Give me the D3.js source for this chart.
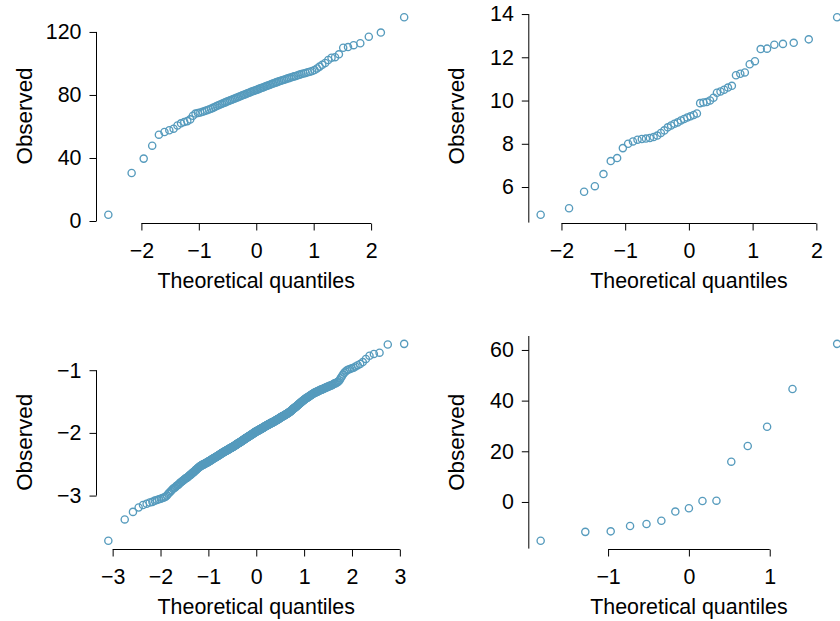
<!DOCTYPE html>
<html>
<head>
<meta charset="utf-8">
<script src="https://cdn.jsdelivr.net/npm/d3@7"></script>
<style>
  body { margin: 0; background: #ffffff; }
  svg { display: block; }
  text { font-family: "Liberation Sans", Arial, Helvetica, sans-serif; fill: #000; }
</style>
</head>
<body>
<svg id="chart" width="840" height="621"></svg>
<script>
const observed1 = [
  4.0,30.5,39.6,47.8,54.8,56.5,57.6,58.6,60.6,62.0,
  62.8,63.4,64.5,66.8,68.2,68.5,68.9,69.3,69.8,70.3,
  70.8,71.3,71.8,72.4,73.0,73.5,74.0,74.4,74.9,75.3,
  75.8,76.2,76.6,77.0,77.4,77.8,78.2,78.6,79.0,79.4,
  79.8,80.1,80.5,80.9,81.3,81.6,82.0,82.4,82.7,83.0,
  83.3,83.7,84.1,84.4,84.8,85.1,85.5,85.8,86.2,86.5,
  86.9,87.3,87.6,88.0,88.3,88.7,89.0,89.3,89.7,90.0,
  90.4,90.7,91.1,91.4,91.8,92.1,92.5,92.9,93.3,93.6,
  94.0,94.4,94.8,95.2,95.8,96.8,98.0,99.2,100.3,102.2,
  103.6,104.0,105.8,110.0,110.4,111.6,112.8,117.0,119.6,129.3
];
const observed2 = [
  4.72,5.02,5.78,6.04,6.60,7.20,7.34,7.80,8.00,8.11,
  8.19,8.22,8.24,8.27,8.31,8.38,8.50,8.62,8.76,8.85,
  8.93,8.99,9.08,9.15,9.22,9.27,9.33,9.40,9.88,9.91,
  9.93,10.00,10.13,10.36,10.42,10.50,10.60,10.68,11.17,11.24,
  11.30,11.68,11.82,12.38,12.40,12.58,12.62,12.67,12.83,13.85
];
const observed3 = [
  -3.72,-3.38,-3.26,-3.19,-3.15,-3.13,-3.11,-3.10,-3.08,-3.07,-3.06,-3.05,-3.04,-3.03,-3.02,-3.00,-2.97,-2.95,-2.93,-2.91,
  -2.89,-2.88,-2.87,-2.85,-2.84,-2.83,-2.82,-2.80,-2.79,-2.78,-2.77,-2.76,-2.75,-2.74,-2.73,-2.72,-2.72,-2.71,-2.70,-2.69,
  -2.68,-2.67,-2.67,-2.66,-2.65,-2.64,-2.63,-2.63,-2.62,-2.61,-2.60,-2.59,-2.59,-2.58,-2.57,-2.56,-2.56,-2.55,-2.54,-2.54,
  -2.53,-2.53,-2.52,-2.52,-2.51,-2.51,-2.51,-2.50,-2.50,-2.50,-2.49,-2.49,-2.48,-2.48,-2.48,-2.47,-2.47,-2.47,-2.46,-2.46,
  -2.45,-2.45,-2.45,-2.44,-2.44,-2.44,-2.43,-2.43,-2.42,-2.42,-2.42,-2.41,-2.41,-2.41,-2.40,-2.40,-2.40,-2.39,-2.39,-2.39,
  -2.38,-2.38,-2.38,-2.37,-2.37,-2.37,-2.36,-2.36,-2.36,-2.35,-2.35,-2.35,-2.34,-2.34,-2.34,-2.33,-2.33,-2.33,-2.32,-2.32,
  -2.32,-2.31,-2.31,-2.31,-2.31,-2.30,-2.30,-2.30,-2.29,-2.29,-2.29,-2.29,-2.28,-2.28,-2.28,-2.28,-2.27,-2.27,-2.27,-2.27,
  -2.26,-2.26,-2.26,-2.25,-2.25,-2.25,-2.25,-2.24,-2.24,-2.24,-2.24,-2.23,-2.23,-2.23,-2.23,-2.22,-2.22,-2.22,-2.22,-2.21,
  -2.21,-2.21,-2.21,-2.20,-2.20,-2.20,-2.19,-2.19,-2.19,-2.19,-2.18,-2.18,-2.18,-2.17,-2.17,-2.17,-2.17,-2.16,-2.16,-2.16,
  -2.16,-2.15,-2.15,-2.15,-2.15,-2.14,-2.14,-2.14,-2.14,-2.13,-2.13,-2.13,-2.12,-2.12,-2.12,-2.12,-2.11,-2.11,-2.11,-2.11,
  -2.10,-2.10,-2.10,-2.09,-2.09,-2.09,-2.09,-2.08,-2.08,-2.08,-2.08,-2.07,-2.07,-2.07,-2.07,-2.06,-2.06,-2.06,-2.06,-2.05,
  -2.05,-2.05,-2.05,-2.04,-2.04,-2.04,-2.04,-2.03,-2.03,-2.03,-2.03,-2.02,-2.02,-2.02,-2.02,-2.01,-2.01,-2.01,-2.01,-2.00,
  -2.00,-2.00,-2.00,-1.99,-1.99,-1.99,-1.99,-1.98,-1.98,-1.98,-1.98,-1.97,-1.97,-1.97,-1.97,-1.97,-1.96,-1.96,-1.96,-1.96,
  -1.96,-1.95,-1.95,-1.95,-1.95,-1.94,-1.94,-1.94,-1.94,-1.94,-1.93,-1.93,-1.93,-1.93,-1.93,-1.92,-1.92,-1.92,-1.92,-1.91,
  -1.91,-1.91,-1.91,-1.90,-1.90,-1.90,-1.90,-1.89,-1.89,-1.89,-1.89,-1.89,-1.88,-1.88,-1.88,-1.88,-1.87,-1.87,-1.87,-1.87,
  -1.87,-1.86,-1.86,-1.86,-1.86,-1.85,-1.85,-1.85,-1.85,-1.85,-1.84,-1.84,-1.84,-1.84,-1.84,-1.83,-1.83,-1.83,-1.83,-1.83,
  -1.82,-1.82,-1.82,-1.82,-1.81,-1.81,-1.81,-1.81,-1.80,-1.80,-1.80,-1.80,-1.79,-1.79,-1.79,-1.79,-1.78,-1.78,-1.78,-1.78,
  -1.77,-1.77,-1.77,-1.77,-1.76,-1.76,-1.76,-1.75,-1.75,-1.75,-1.75,-1.74,-1.74,-1.74,-1.74,-1.73,-1.73,-1.73,-1.73,-1.72,
  -1.72,-1.72,-1.72,-1.71,-1.71,-1.71,-1.70,-1.70,-1.70,-1.70,-1.69,-1.69,-1.69,-1.68,-1.68,-1.68,-1.67,-1.67,-1.67,-1.66,
  -1.66,-1.66,-1.65,-1.65,-1.64,-1.64,-1.63,-1.63,-1.62,-1.62,-1.61,-1.61,-1.61,-1.60,-1.60,-1.59,-1.59,-1.59,-1.58,-1.58,
  -1.57,-1.57,-1.56,-1.56,-1.55,-1.55,-1.54,-1.54,-1.53,-1.53,-1.52,-1.52,-1.51,-1.51,-1.50,-1.50,-1.49,-1.49,-1.48,-1.48,
  -1.47,-1.47,-1.46,-1.46,-1.45,-1.45,-1.44,-1.44,-1.44,-1.43,-1.43,-1.42,-1.42,-1.41,-1.41,-1.40,-1.40,-1.39,-1.39,-1.38,
  -1.38,-1.37,-1.37,-1.36,-1.36,-1.36,-1.35,-1.35,-1.34,-1.34,-1.34,-1.33,-1.33,-1.32,-1.32,-1.31,-1.31,-1.31,-1.30,-1.30,
  -1.29,-1.29,-1.28,-1.28,-1.27,-1.27,-1.26,-1.26,-1.25,-1.25,-1.24,-1.24,-1.23,-1.22,-1.21,-1.21,-1.20,-1.19,-1.18,-1.16,
  -1.13,-1.10,-1.07,-1.04,-1.02,-1.00,-0.99,-0.98,-0.97,-0.96,-0.94,-0.92,-0.90,-0.87,-0.82,-0.77,-0.74,-0.72,-0.59,-0.58
];
const observed4 = [-15.3,-11.8,-11.6,-9.5,-8.7,-7.4,-3.8,-2.5,0.4,0.5,15.9,22.1,29.7,44.6,62.4];

const xTicks1 = [-2,-1,0,1,2];
const yTicks1 = [0,40,80,120];
const xTicks2 = [-2,-1,0,1,2];
const yTicks2 = [6,8,10,12,14];
const xTicks3 = [-3,-2,-1,0,1,2,3];
const yTicks3 = [-3,-2,-1];
const xTicks4 = [-1,0,1];
const yTicks4 = [0,20,40,60];

const xLabel = "Theoretical quantiles";
const yLabel = "Observed";

// ---------- helpers ----------
function qnorm(p) {
  const a = [-3.969683028665376e+01, 2.209460984245205e+02, -2.759285104469687e+02, 1.383577518672690e+02, -3.066479806614716e+01, 2.506628277459239e+00];
  const b = [-5.447609879822406e+01, 1.615858368580409e+02, -1.556989798598866e+02, 6.680131188771972e+01, -1.328068155922803e+01];
  const c = [-7.784894002430293e-03, -3.223964580411365e-01, -2.400758277161838e+00, -2.549732539343734e+00, 4.374664141464968e+00, 2.938163982698783e+00];
  const d = [7.784695709041462e-03, 3.224671290700398e-01, 2.445134137142996e+00, 3.754408661907416e+00];
  const plow = 0.02425, phigh = 1 - plow;
  let q, r;
  if (p < plow) {
    q = Math.sqrt(-2 * Math.log(p));
    return (((((c[0]*q+c[1])*q+c[2])*q+c[3])*q+c[4])*q+c[5]) / ((((d[0]*q+d[1])*q+d[2])*q+d[3])*q+1);
  } else if (p <= phigh) {
    q = p - 0.5; r = q*q;
    return (((((a[0]*r+a[1])*r+a[2])*r+a[3])*r+a[4])*r+a[5])*q / (((((b[0]*r+b[1])*r+b[2])*r+b[3])*r+b[4])*r+1);
  } else {
    q = Math.sqrt(-2 * Math.log(1 - p));
    return -(((((c[0]*q+c[1])*q+c[2])*q+c[3])*q+c[4])*q+c[5]) / ((((d[0]*q+d[1])*q+d[2])*q+d[3])*q+1);
  }
}
function theoretical(n) {
  const a = n <= 10 ? 3/8 : 0.5;
  return d3.range(1, n + 1).map(i => qnorm((i - a) / (n + 1 - 2 * a)));
}
function padded(ext) {
  const pad = (ext[1] - ext[0]) * 0.04;
  return [ext[0] - pad, ext[1] + pad];
}

// ---------- layout ----------
const COLOR = "#569BBD";
const FS = 21.4;
const FS_Y = 22.4;
const cols = [{left: 96.5, right: 416}, {left: 528.8, right: 849}];
const rows = [{top: 9.4, bottom: 222.6}, {top: 336, bottom: 548.6}];

const panels = [
  {obs: observed1, xt: xTicks1, yt: yTicks1, col: 0, row: 0, yLine: "ticks"},
  {obs: observed2, xt: xTicks2, yt: yTicks2, col: 1, row: 0, yLine: "bottomToTick"},
  {obs: observed3, xt: xTicks3, yt: yTicks3, col: 0, row: 1, yLine: "ticks"},
  {obs: observed4, xt: xTicks4, yt: yTicks4, col: 1, row: 1, yLine: "full"}
];

const svg = d3.select("#chart");
svg.append("rect").attr("width", 840).attr("height", 621).attr("fill", "#fff");

panels.forEach(p => {
  const box = {left: cols[p.col].left, right: cols[p.col].right, top: rows[p.row].top, bottom: rows[p.row].bottom};
  const vals = p.obs.slice().sort((a, b) => a - b);
  const th = theoretical(vals.length);
  const pts = vals.map((v, i) => ({q: th[i], v: v}));

  const x = d3.scaleLinear().domain(padded(d3.extent(th))).range([box.left, box.right]);
  const y = d3.scaleLinear().domain(padded(d3.extent(vals))).range([box.bottom, box.top]);

  const g = svg.append("g");
  const axisY = box.bottom + 0.9;
  const axisX = box.left;

  // x axis
  const xa = g.append("g").attr("transform", `translate(0,${axisY})`)
    .call(d3.axisBottom(x).tickValues(p.xt).tickFormat(d3.format("d")).tickSize(7).tickPadding(12.4));
  xa.select(".domain").remove();
  xa.selectAll(".tick line").attr("stroke", "#000").attr("stroke-width", 1);
  xa.selectAll(".tick text").attr("font-size", FS).attr("font-family", null).attr("fill", "#000");
  xa.append("line")
    .attr("x1", x(p.xt[0])).attr("x2", x(p.xt[p.xt.length - 1]))
    .attr("y1", 0).attr("y2", 0).attr("stroke", "#000").attr("stroke-width", 1);

  // y axis
  const ya = g.append("g").attr("transform", `translate(${axisX},0)`)
    .call(d3.axisLeft(y).tickValues(p.yt).tickFormat(d3.format("d")).tickSize(7).tickPadding(8));
  ya.select(".domain").remove();
  ya.selectAll(".tick line").attr("stroke", "#000").attr("stroke-width", 1);
  ya.selectAll(".tick text").attr("font-size", FS).attr("font-family", null).attr("fill", "#000");
  let yl0, yl1;
  if (p.yLine === "ticks") { yl0 = y(p.yt[0]); yl1 = y(p.yt[p.yt.length - 1]); }
  else if (p.yLine === "bottomToTick") { yl0 = y.range()[0]; yl1 = y(p.yt[p.yt.length - 1]); }
  else { yl0 = y.range()[0]; yl1 = y.range()[1]; }
  ya.append("line").attr("x1", 0).attr("x2", 0).attr("y1", yl0).attr("y2", yl1)
    .attr("stroke", "#000").attr("stroke-width", 1);

  // titles
  g.append("text")
    .attr("x", (box.left + box.right) / 2).attr("y", axisY + 64)
    .attr("text-anchor", "middle").attr("font-size", FS).text(xLabel);
  const cy = (box.top + box.bottom) / 2;
  g.append("text")
    .attr("transform", `translate(${axisX - 64.5},${cy}) rotate(-90)`)
    .attr("text-anchor", "middle").attr("font-size", FS_Y).text(yLabel);

  // points
  g.append("g").selectAll("circle").data(pts).join("circle")
    .attr("cx", d => x(d.q)).attr("cy", d => y(d.v)).attr("r", 3.6)
    .attr("fill", "none").attr("stroke", COLOR).attr("stroke-width", 1.35);
});
</script>
</body>
</html>
